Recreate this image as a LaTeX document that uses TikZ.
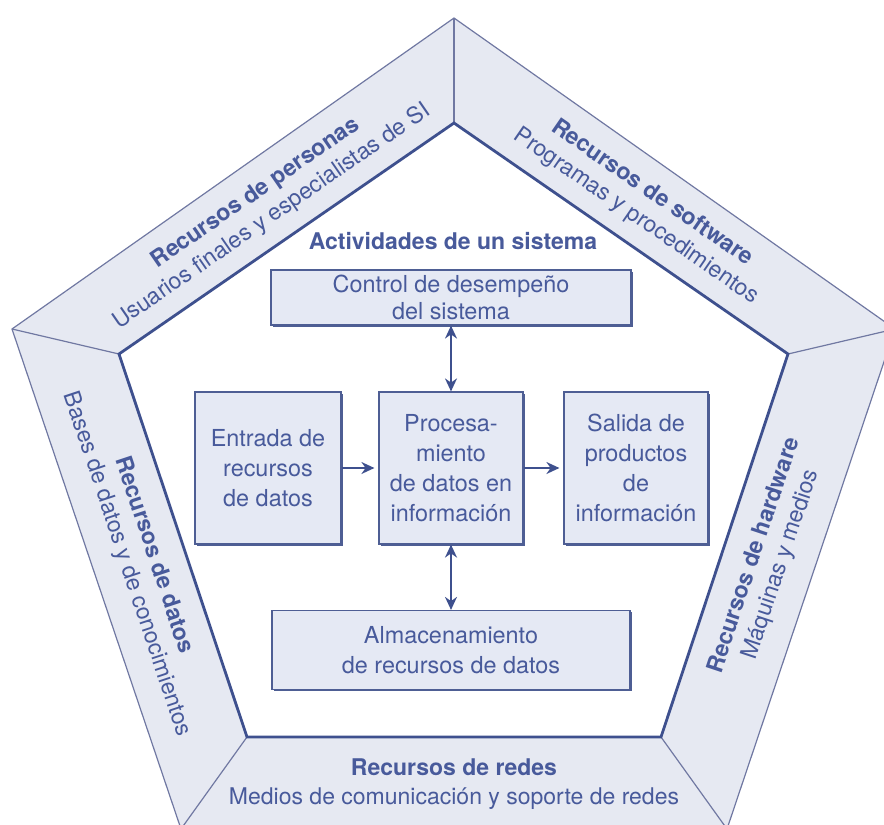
\documentclass[tikz,border=0pt]{standalone}
\usepackage{fontspec}
\setmainfont{TeX Gyre Heros}
\usetikzlibrary{arrows.meta, shadows}
\definecolor{ink}{RGB}{72,90,155}
\definecolor{boxline}{RGB}{78,94,148}
\definecolor{boxfill}{RGB}{229,233,244}
\definecolor{framefill}{RGB}{230,233,242}
\definecolor{frameline}{RGB}{112,120,162}
\definecolor{edgeline}{RGB}{62,80,142}
\tikzset{
box/.style={draw=boxline, fill=boxfill, line width=0.6pt, align=center, text=ink, inner sep=0pt, font=\fontsize{11.7}{15}\selectfont, drop shadow={shadow xshift=0.9pt, shadow yshift=-0.9pt, fill=boxline, opacity=1}}, % the boxes of the activities
frametext/.style={text=ink, align=center, font=\fontsize{11.5}{14.2}\selectfont}, % the texts in the pentagon
flow/.style={-{Stealth[length=6.5pt, width=6pt]}, line width=0.9pt, draw=edgeline, shorten >=2pt},
both/.style={{Stealth[length=6.5pt, width=6pt]}-{Stealth[length=6.5pt, width=6pt]}, line width=0.9pt, draw=edgeline},
}

\begin{document}
\begin{tikzpicture}[x=0.5pt, y=-0.5pt]
\useasboundingbox (0,0) rectangle (884,825);
\clip (0,0) rectangle (884,825);

% pentagon frame
\coordinate (i1) at (454,123);
\coordinate (i2) at (788,354);
\coordinate (i3) at (661,737);
\coordinate (i4) at (247,737);
\coordinate (i5) at (119,354);
\coordinate (o1) at (454,18);
\coordinate (o2) at (895,329);
\coordinate (o3) at (727,829);
\coordinate (o4) at (181,829);
\coordinate (o5) at (12,329);

\filldraw[fill=framefill, draw=frameline, line width=0.6pt] (o1) -- (o2) -- (o3) -- (o4) -- (o5) -- cycle;
\fill[white] (i1) -- (i2) -- (i3) -- (i4) -- (i5) -- cycle;
\foreach \k in {1,...,5}
  \draw[frameline, line width=0.6pt] (i\k) -- (o\k);
\draw[edgeline, line width=1.4pt, line join=miter] (i1) -- (i2) -- (i3) -- (i4) -- (i5) -- cycle;

\node[frametext, rotate=34.6] (personas) at (264,205) {\textbf{Recursos de personas}\\Usuarios finales y especialistas de SI};
\node[frametext, rotate=-34.6] (software) at (644,205) {\textbf{Recursos de software}\\Programas y procedimientos};
\node[frametext, rotate=71.6] (hardware) at (768,560) {\textbf{Recursos de hardware}\\Máquinas y medios};
\node[frametext] (redes) at (454,784) {\textbf{Recursos de redes}\\Medios de comunicación y soporte de redes};
\node[frametext, rotate=-71.6] (datos) at (140,560) {\textbf{Recursos de datos}\\Bases de datos y de conocimientos};

% activities
\node[text=ink, font=\bfseries\fontsize{11.5}{13.5}\selectfont] (titulo) at (453,241) {Actividades de un sistema};
\node[box, minimum width=180pt, minimum height=27.5pt, font=\fontsize{11.7}{13.5}\selectfont] (control) at (451,297.5) {Control de desempeño\\del sistema};
\node[box, minimum width=73pt, minimum height=76pt] (entrada) at (268,468) {Entrada de\\recursos\\de datos};
\node[box, minimum width=72pt, minimum height=76pt] (proc) at (451,468) {Procesa-\\miento\\de datos en\\información};
\node[box, minimum width=72pt, minimum height=76pt] (salida) at (636,468) {Salida de\\productos\\de\\información};
\node[box, minimum width=179pt, minimum height=39.5pt] (almacen) at (451,650) {Almacenamiento\\de recursos de datos};

\draw[flow] (entrada) -- (proc);
\draw[flow] (proc) -- (salida);
\draw[both] (control) -- (proc);
\draw[both] (proc) -- (almacen);
\end{tikzpicture}
\end{document}
